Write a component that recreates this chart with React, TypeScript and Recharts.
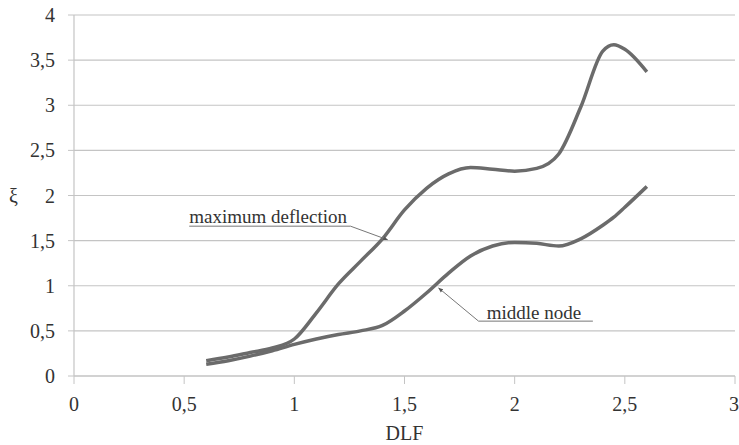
import React from "react";
import {
  LineChart,
  Line,
  XAxis,
  YAxis,
  CartesianGrid,
  ReferenceLine,
  ReferenceDot,
} from "recharts";

const dlf = [0.6, 0.7, 0.8, 0.9, 1.0, 1.1, 1.2, 1.3, 1.4, 1.5, 1.6, 1.7, 1.8, 1.9, 2.0, 2.1, 2.2, 2.3, 2.4, 2.45, 2.5, 2.6];
const maxDeflection = [0.17, 0.21, 0.26, 0.31, 0.41, 0.7, 1.02, 1.27, 1.52, 1.84, 2.08, 2.24, 2.31, 2.29, 2.27, 2.3, 2.46, 2.98, 3.6, 3.67, 3.62, 3.37];
const middleNode = [0.13, 0.17, 0.22, 0.28, 0.35, 0.41, 0.46, 0.5, 0.56, 0.72, 0.92, 1.14, 1.33, 1.44, 1.48, 1.47, 1.44, 1.52, 1.67, 1.76, 1.87, 2.1];

const xTicks = [0, 0.5, 1, 1.5, 2, 2.5, 3];
const yTicks = [0, 0.5, 1, 1.5, 2, 2.5, 3, 3.5, 4];

const xLabel = "DLF";
const yLabel = "ξ";

// annotation anchors (data coordinates)
const maxLabel = { text: "maximum deflection", x: 0.523, y: 1.77, ux1: 0.523, ux2: 1.255, uy: 1.66, tipX: 1.423, tipY: 1.51 };
const midLabel = { text: "middle node", x: 1.873, y: 0.707, ux1: 1.836, ux2: 2.355, uy: 0.608, tipX: 1.655, tipY: 0.975 };

const data = dlf.map((x, i) => ({ x, maxDef: maxDeflection[i], mid: middleNode[i] }));

const fmt = (v: number) => String(v).replace(".", ",");

const FONT = "Liberation Serif";
const LINE_COLOR = "#6b6b6b";
const GRID = "#c4c4c4";
const TEXT = "#333333";

export default function App() {
  const tickStyle = { fontFamily: FONT, fontSize: 20, fill: TEXT };
  return (
    <div style={{ position: "absolute", left: 0, top: 0, background: "#fff" }}>
      <LineChart
        width={739}
        height={445}
        data={data}
        margin={{ top: 15, right: 4, left: 0, bottom: 0 }}
      >
        <defs>
          <marker id="arrowHead" viewBox="0 0 10 10" refX="9" refY="5" markerWidth="5" markerHeight="5" orient="auto-start-reverse">
            <path d="M0,1 L10,5 L0,9 z" fill="#555" />
          </marker>
        </defs>
        <CartesianGrid horizontal vertical={false} stroke={GRID} strokeWidth={1.2} />
        <XAxis
          type="number"
          dataKey="x"
          domain={[0, 3]}
          ticks={xTicks}
          tickFormatter={fmt}
          height={69}
          tickSize={8}
          tickMargin={13}
          stroke={GRID}
          tick={tickStyle}
          tickLine={{ stroke: GRID }}
          axisLine={{ stroke: GRID, strokeWidth: 1.2 }}
          label={{ value: xLabel, position: "insideBottom", offset: 5, fontFamily: FONT, fontSize: 20, fill: TEXT }}
        />
        <YAxis
          type="number"
          domain={[0, 4]}
          ticks={yTicks}
          tickFormatter={fmt}
          width={74}
          tickSize={6}
          tickMargin={13}
          stroke={GRID}
          tick={tickStyle}
          tickLine={{ stroke: GRID }}
          axisLine={{ stroke: GRID, strokeWidth: 1.2 }}
          label={{ value: yLabel, position: "insideLeft", offset: 9, angle: 0, fontFamily: FONT, fontSize: 20, fill: TEXT }}
        />
        <Line
          type="monotone"
          dataKey="maxDef"
          stroke={LINE_COLOR}
          strokeWidth={3.5}
          dot={false}
          isAnimationActive={false}
        />
        <Line
          type="monotone"
          dataKey="mid"
          stroke={LINE_COLOR}
          strokeWidth={3.5}
          dot={false}
          isAnimationActive={false}
        />
        <ReferenceLine segment={[{ x: maxLabel.ux1, y: maxLabel.uy }, { x: maxLabel.ux2, y: maxLabel.uy }]} stroke="#777" strokeWidth={1} ifOverflow="visible" />
        <ReferenceLine segment={[{ x: maxLabel.ux2, y: maxLabel.uy }, { x: maxLabel.tipX, y: maxLabel.tipY }]} stroke="#777" strokeWidth={1} markerEnd="url(#arrowHead)" ifOverflow="visible" />
        <ReferenceLine segment={[{ x: midLabel.ux1, y: midLabel.uy }, { x: midLabel.ux2, y: midLabel.uy }]} stroke="#777" strokeWidth={1} ifOverflow="visible" />
        <ReferenceLine segment={[{ x: midLabel.ux1, y: midLabel.uy }, { x: midLabel.tipX, y: midLabel.tipY }]} stroke="#777" strokeWidth={1} markerEnd="url(#arrowHead)" ifOverflow="visible" />
        <ReferenceDot
          x={maxLabel.x}
          y={maxLabel.y}
          r={0}
          fill="none"
          stroke="none"
          ifOverflow="visible"
          label={{ value: maxLabel.text, position: "right", offset: 0, fontFamily: FONT, fontSize: 19, fill: TEXT }}
        />
        <ReferenceDot
          x={midLabel.x}
          y={midLabel.y}
          r={0}
          fill="none"
          stroke="none"
          ifOverflow="visible"
          label={{ value: midLabel.text, position: "right", offset: 0, fontFamily: FONT, fontSize: 19, fill: TEXT }}
        />
      </LineChart>
    </div>
  );
}
